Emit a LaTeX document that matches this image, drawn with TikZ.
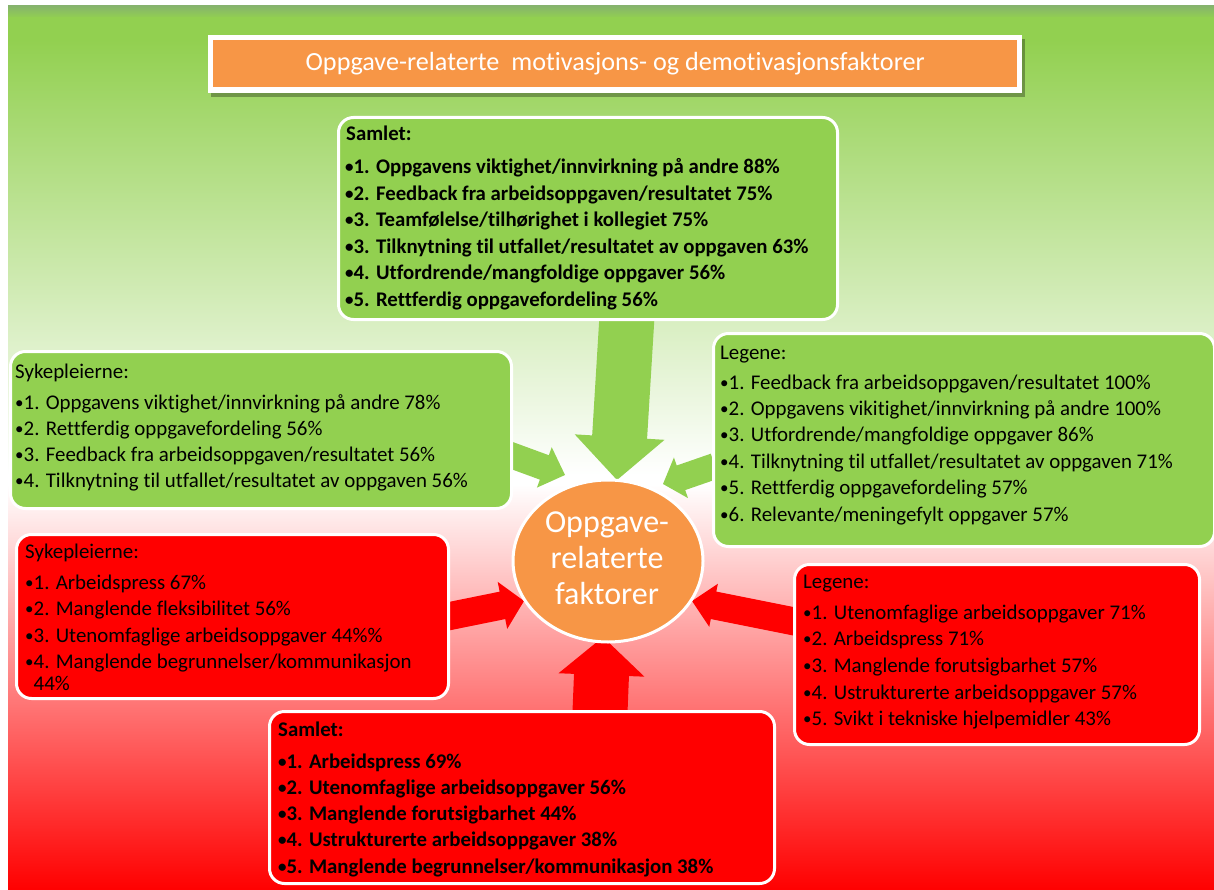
\documentclass[tikz,border=0pt]{standalone}
\usepackage{fontspec}
\setmainfont{Carlito}[Ligatures={NoCommon}]
\usetikzlibrary{calc,shapes.geometric}

\definecolor{leafgreen}{HTML}{92D050}
\definecolor{signalred}{HTML}{FF0000}
\definecolor{tangerine}{HTML}{F79646}
\definecolor{edgegreen}{HTML}{86B46C}

% list bullet
\newcommand{\bul}{\raisebox{1pt}{\fontsize{17}{17}\selectfont •}}

% block arrow: #1 colour, #2 tail, #3 tip, #4 half shaft width, #5 half head width, #6 head length
\newcommand{\blockarrow}[6]{%
  \coordinate (headbase) at ($(#3)!#6!(#2)$);
  \fill[#1] ($(#2)!#4!90:(#3)$) -- ($(headbase)!#4!-90:(#2)$) -- ($(headbase)!#5!-90:(#2)$)
    -- (#3) -- ($(headbase)!#5!90:(#2)$) -- ($(headbase)!#4!90:(#2)$) -- ($(#2)!#4!-90:(#3)$) -- cycle;
}

\begin{document}
\begin{tikzpicture}[x=1pt,y=-1pt,
  panel/.style={draw=white, line width=3pt, rounded corners=15pt, anchor=north west, inner sep=0pt},
  item/.style={anchor=base west, inner sep=0pt, font=\fontsize{20.9}{24}\selectfont},
  bolditem/.style={anchor=base west, inner sep=0pt, font=\fontsize{20.8}{24}\selectfont\bfseries},
]
\useasboundingbox (0,0) rectangle (1214,890);

% background: green at the top fading to white, then to red at the bottom
\shade[top color=edgegreen, bottom color=leafgreen] (8,6) rectangle (1214,18);
\fill[leafgreen] (8,17.5) rectangle (1214,40);
\shade[top color=leafgreen, bottom color=white] (8,39.5) rectangle (1214,475);
\fill[white] (8,474.5) rectangle (1214,485);
\shade[top color=white, bottom color=signalred] (8,484.5) rectangle (1214,890);

% title banner
\fill[black, opacity=0.3] (211,39) rectangle (1025,97);
\fill[white] (208,35) rectangle (1022,93);
\node[fill=tangerine, minimum width=804pt, minimum height=47pt, inner sep=0pt, anchor=north west,
      text=white, font=\fontsize{26.2}{30}\selectfont] (title) at (213,40)
  {Oppgave-relaterte\ \ motivasjons- og demotivasjonsfaktorer};

% arrow end points
\coordinate (gTopTail) at (627,316);   \coordinate (gTopTip) at (617,480);
\coordinate (gLeftTail) at (505,453);  \coordinate (gLeftTip) at (565,475);
\coordinate (gRightTail) at (715,466); \coordinate (gRightTip) at (663,484);
\coordinate (rLeftTail) at (445,617);  \coordinate (rLeftTip) at (524,601);
\coordinate (rRightTail) at (797,622); \coordinate (rRightTip) at (692,601);
\coordinate (rBotTail) at (600,712);   \coordinate (rBotTip) at (603,637);

\blockarrow{leafgreen}{gTopTail}{gTopTip}{27.5pt}{45pt}{43pt}
\blockarrow{leafgreen}{gLeftTail}{gLeftTip}{13pt}{21.5pt}{22pt}
\blockarrow{leafgreen}{gRightTail}{gRightTip}{13pt}{21.5pt}{19pt}
\blockarrow{signalred}{rLeftTail}{rLeftTip}{14pt}{24pt}{22pt}
\blockarrow{signalred}{rRightTail}{rRightTip}{14pt}{22pt}{22pt}
\blockarrow{signalred}{rBotTail}{rBotTip}{27.5pt}{43pt}{38pt}

% panels
\node[panel, fill=leafgreen, minimum width=499pt, minimum height=202pt] (gsum) at (337,116) {};
\node[panel, fill=leafgreen, minimum width=501pt, minimum height=157pt] (gnurse) at (9,350) {};
\node[panel, fill=leafgreen, minimum width=501pt, minimum height=213pt] (gdoc) at (712,332) {};
\node[panel, fill=signalred, minimum width=432pt, minimum height=164pt] (rnurse) at (15,533) {};
\node[panel, fill=signalred, minimum width=405pt, minimum height=180pt] (rdoc) at (793,563) {};
\node[panel, fill=signalred, minimum width=505pt, minimum height=172pt] (rsum) at (268,710) {};

% central ellipse
\node[ellipse, draw=white, line width=3pt, fill=tangerine, minimum width=190pt, minimum height=162pt] (hub) at (608,561) {};
\node[text=white, align=center, inner sep=0pt, font=\fontsize{32}{36}\selectfont] (hubText) at (607,558)
  {Oppgave-\\relaterte\\faktorer};

% overall, motivating
\node[bolditem] (gsumHead) at (346,141) {Samlet:};
\foreach \txt [count=\k] in {
  {\bul1. Oppgavens viktighet/innvirkning på andre 88\%},
  {\bul2. Feedback fra arbeidsoppgaven/resultatet 75\%},
  {\bul3. Teamfølelse/tilhørighet i kollegiet 75\%},
  {\bul3. Tilknytning til utfallet/resultatet av oppgaven 63\%},
  {\bul4. Utfordrende/mangfoldige oppgaver 56\%},
  {\bul5. Rettferdig oppgavefordeling 56\%}}
  \node[bolditem] (gsum\k) at (345,{174+26.4*(\k-1)}) {\txt};

% nurses, motivating
\node[item] (gnurseHead) at (15,378) {Sykepleierne:};
\foreach \txt [count=\k] in {
  {\bul1. Oppgavens viktighet/innvirkning på andre 78\%},
  {\bul2. Rettferdig oppgavefordeling 56\%},
  {\bul3. Feedback fra arbeidsoppgaven/resultatet 56\%},
  {\bul4. Tilknytning til utfallet/resultatet av oppgaven 56\%}}
  \node[item] (gnurse\k) at (15,{409+26.2*(\k-1)}) {\txt};

% doctors, motivating
\node[item] (gdocHead) at (720,359) {Legene:};
\foreach \txt [count=\k] in {
  {\bul1. Feedback fra arbeidsoppgaven/resultatet 100\%},
  {\bul2. Oppgavens vikitighet/innvirkning på andre 100\%},
  {\bul3. Utfordrende/mangfoldige oppgaver 86\%},
  {\bul4. Tilknytning til utfallet/resultatet av oppgaven 71\%},
  {\bul5. Rettferdig oppgavefordeling 57\%},
  {\bul6. Relevante/meningefylt oppgaver 57\%}}
  \node[item] (gdoc\k) at (720,{389+26.4*(\k-1)}) {\txt};

% nurses, demotivating
\node[item] (rnurseHead) at (25,558) {Sykepleierne:};
\foreach \txt [count=\k] in {
  {\bul1. Arbeidspress 67\%},
  {\bul2. Manglende fleksibilitet 56\%},
  {\bul3. Utenomfaglige arbeidsoppgaver 44\%\%},
  {\bul4. Manglende begrunnelser/kommunikasjon}}
  \node[item] (rnurse\k) at (25,{589+26.5*(\k-1)}) {\txt};
\node[item] (rnurse4b) at (25,690) {\phantom{\bul}44\%};

% doctors, demotivating
\node[item] (rdocHead) at (803,588) {Legene:};
\foreach \txt [count=\k] in {
  {\bul1. Utenomfaglige arbeidsoppgaver 71\%},
  {\bul2. Arbeidspress 71\%},
  {\bul3. Manglende forutsigbarhet 57\%},
  {\bul4. Ustrukturerte arbeidsoppgaver 57\%},
  {\bul5. Svikt i tekniske hjelpemidler 43\%}}
  \node[item] (rdoc\k) at (803,{619+26.7*(\k-1)}) {\txt};

% overall, demotivating
\node[bolditem] (rsumHead) at (278,736) {Samlet:};
\foreach \txt [count=\k] in {
  {\bul1. Arbeidspress 69\%},
  {\bul2. Utenomfaglige arbeidsoppgaver 56\%},
  {\bul3. Manglende forutsigbarhet 44\%},
  {\bul4. Ustrukturerte arbeidsoppgaver 38\%},
  {\bul5. Manglende begrunnelser/kommunikasjon 38\%}}
  \node[bolditem] (rsum\k) at (278,{768+26.3*(\k-1)}) {\txt};
\end{tikzpicture}
\end{document}
